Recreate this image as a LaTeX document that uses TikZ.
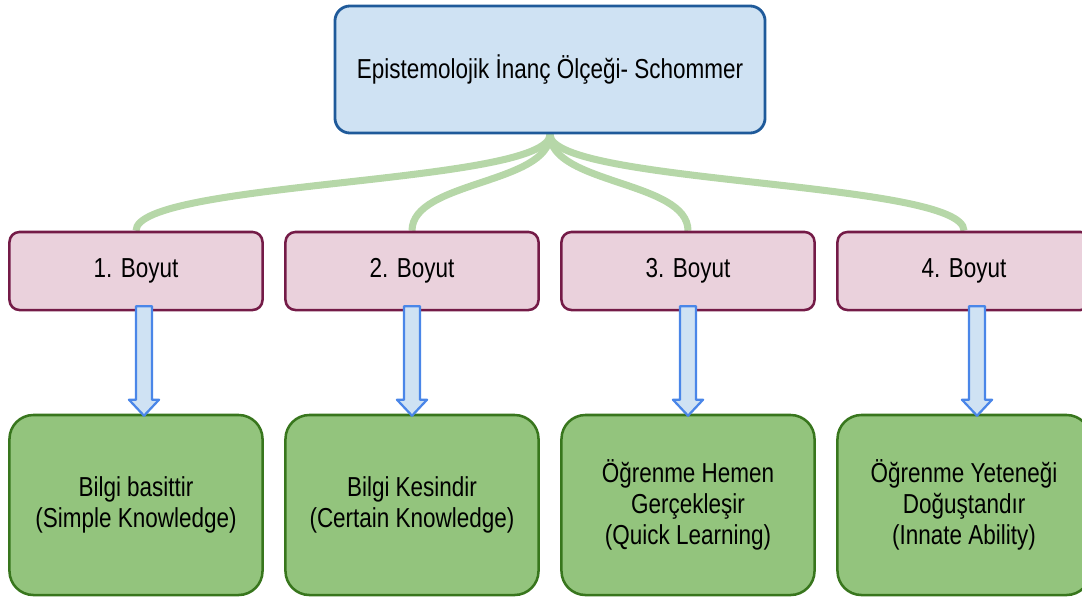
\documentclass[tikz,border=0pt]{standalone}
\usepackage{fontspec}
\setmainfont{Liberation Sans}[FakeStretch=0.82]
\usetikzlibrary{calc,backgrounds}
\definecolor{topfill}{HTML}{CFE2F3}
\definecolor{topline}{HTML}{1F5A9A}
\definecolor{dimfill}{HTML}{EAD1DC}
\definecolor{dimline}{HTML}{741B47}
\definecolor{belfill}{HTML}{93C47D}
\definecolor{belline}{HTML}{38761D}
\definecolor{branchgreen}{HTML}{B6D7A8}
\definecolor{arrowline}{HTML}{4A86E8}
\begin{document}
\begin{tikzpicture}[x=0.025cm,y=-0.025cm,
  font=\fontsize{19.5}{22}\selectfont,
  topbox/.style={draw=topline,fill=topfill,line width=2pt,rounded corners=0.375cm,minimum width=10.75cm,minimum height=3.175cm},
  dimbox/.style={draw=dimline,fill=dimfill,line width=1.8pt,rounded corners=0.25cm,minimum width=6.325cm,minimum height=1.95cm},
  beliefbox/.style={draw=belline,fill=belfill,line width=1.8pt,rounded corners=0.6cm,minimum width=6.325cm,minimum height=4.5cm,align=center},
  branch/.style={draw=branchgreen,line width=5pt},
  blockarrow/.style={draw=arrowline,fill=topfill,line width=1.6pt,line join=round,
    to path={let \p1=(\tikztostart),\p2=(\tikztotarget) in
      (\x1-5.7pt,\y1) -- (\x1+5.7pt,\y1) -- (\x1+5.7pt,\y2+11.4pt) -- (\x1+10.7pt,\y2+11.4pt)
      -- (\x1,\y2) -- (\x1-10.7pt,\y2+11.4pt) -- (\x1-5.7pt,\y2+11.4pt) -- cycle}}]
\useasboundingbox (0,0) rectangle (1082,598);
\node[topbox] (scale) at (550,69.5) {Epistemolojik İnanç Ölçeği- Schommer};
\foreach \i/\t/\dx in {1/{Bilgi basittir\\(Simple Knowledge)}/8,
                       2/{Bilgi Kesindir\\(Certain Knowledge)}/0,
                       3/{Öğrenme Hemen\\Gerçekleşir\\(Quick Learning)}/0,
                       4/{Öğrenme Yeteneği\\Doğuştandır\\ (Innate Ability)}/13} {
  \node[dimbox] (dim\i) at (136+276*\i-276,271) {\i. Boyut};
  \node[beliefbox] (belief\i) at (136+276*\i-276,505) {\t};
  \begin{scope}[on background layer]
    \draw[branch] (scale.south) .. controls +(0,50) and +(0,-50) .. (dim\i.north);
  \end{scope}
  \draw[blockarrow] ($(dim\i.south)+(\dx,-5)$) to ($(belief\i.north)+(\dx,2)$);
}
\end{tikzpicture}
\end{document}
